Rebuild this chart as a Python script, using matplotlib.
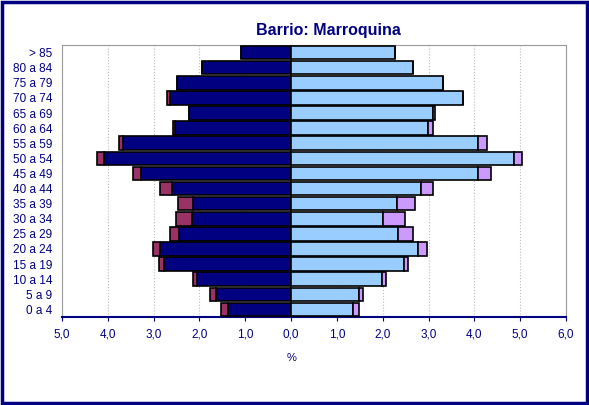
import matplotlib.pyplot as plt
from matplotlib.patches import Rectangle

# -----------------------
# Data (bottom to top)
# -----------------------

ages = ["0 a 4", "5 a 9", "10 a 14", "15 a 19", "20 a 24", "25 a 29",
        "30 a 34", "35 a 39", "40 a 44", "45 a 49", "50 a 54", "55 a 59",
        "60 a 64", "65 a 69", "70 a 74", "75 a 79", "80 a 84", "> 85"]

men_base = [1.37, 1.64, 2.06, 2.77, 2.87, 2.44, 2.17, 2.13, 2.59, 3.27,
            4.09, 3.66, 2.53, 2.23, 2.65, 2.48, 1.95, 1.09]
men_extra = [0.16, 0.12, 0.07, 0.11, 0.15, 0.21, 0.35, 0.33, 0.28, 0.18,
             0.14, 0.09, 0.05, 0.0, 0.06, 0.0, 0.0, 0.0]

women_base = [1.36, 1.49, 1.99, 2.47, 2.77, 2.33, 2.01, 2.32, 2.83, 4.09,
              4.87, 4.09, 2.98, 3.10, 3.75, 3.31, 2.65, 2.27]
women_extra = [0.13, 0.09, 0.08, 0.09, 0.20, 0.34, 0.48, 0.39, 0.26, 0.27,
               0.16, 0.18, 0.11, 0.04, 0.0, 0.0, 0.0, 0.0]

xticks = [-5, -4, -3, -2, -1, 0, 1, 2, 3, 4, 5, 6]
xtick_labels = ["5,0", "4,0", "3,0", "2,0", "1,0", "0,0",
                "1,0", "2,0", "3,0", "4,0", "5,0", "6,0"]

# -----------------------
# Plot
# -----------------------

plt.rcParams["font.family"] = ["Liberation Sans", "DejaVu Sans"]
navy = "#000080"

fig = plt.figure(figsize=(5.89, 4.05), dpi=100)
ax = fig.add_axes([62 / 589, 1 - 317 / 405, 504 / 589, 272 / 405])

y = list(range(len(ages)))
h = 0.9
men_neg = [-v for v in men_base]
men_ext_neg = [-v for v in men_extra]

ax.barh(y, men_neg, height=h, color=navy, edgecolor="black", linewidth=1.2, zorder=3)
ax.barh(y, men_ext_neg, left=men_neg, height=h, color="#993366",
        edgecolor="black", linewidth=1.2, zorder=3)
ax.barh(y, women_base, height=h, color="#99CCFF", edgecolor="black", linewidth=1.2, zorder=3)
ax.barh(y, women_extra, left=women_base, height=h, color="#CC99FF",
        edgecolor="black", linewidth=1.2, zorder=3)

ax.set_xlim(-5, 6)
ax.set_ylim(-0.5, len(ages) - 0.5)
ax.set_xticks(xticks)
ax.set_xticklabels(xtick_labels)
ax.set_yticks(y)
ax.set_yticklabels(ages)

ax.grid(axis="x", color="#bbbbbb", linestyle=":", linewidth=0.8, zorder=0)

ax.tick_params(axis="x", colors=navy, labelcolor=navy, labelsize=8.5, length=3, pad=5)
ax.tick_params(axis="y", length=0, labelcolor=navy, labelsize=8.5, pad=7)

for side in ["top", "right", "left"]:
    ax.spines[side].set_color("#999999")
ax.spines["bottom"].set_color(navy)
ax.spines["bottom"].set_linewidth(1.5)

ax.text(0, -3.2, "%", transform=ax.transData, ha="center", va="center",
        color=navy, fontsize=8)

fig.text(328 / 589, 1 - 31 / 405, "Barrio: Marroquina", ha="center", va="center",
         fontsize=11.5, fontweight="bold", color=navy)

# outer frame
fig.patches.append(Rectangle((0.004, 0.005), 0.992, 0.99, transform=fig.transFigure,
                             fill=False, edgecolor=navy, linewidth=2.5))

fig.savefig("out.png", dpi=100)
